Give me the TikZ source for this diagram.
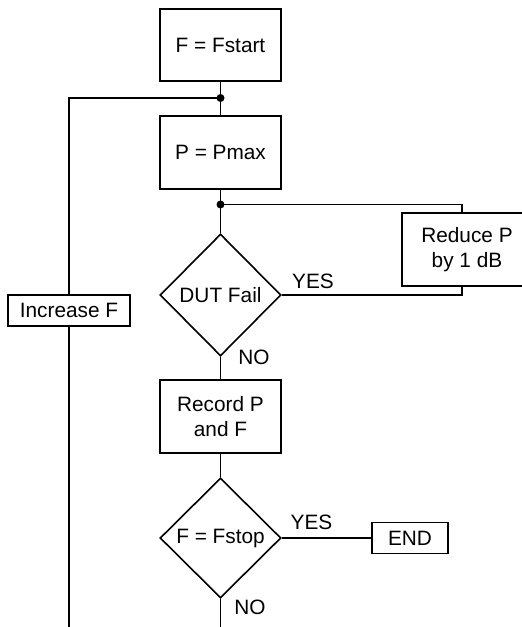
\documentclass[tikz,border=0pt]{standalone}
\usepackage{fontspec}
\setmainfont{Liberation Sans}
\usetikzlibrary{shapes.geometric}
\begin{document}
\begin{tikzpicture}[x=1pt,y=-1pt,
  every node/.style={font=\fontsize{20.8}{25.5}\selectfont},
  line/.style={line width=1.6pt},
  box/.style={draw,line width=1.6pt,rectangle,inner sep=0pt,align=center},
  decision/.style={draw,line width=1.6pt,diamond,inner sep=0pt,aspect=1},
  lbl/.style={inner sep=0pt},
  dot/.style={circle,fill,inner sep=0pt,minimum size=8pt}]
\useasboundingbox (0,0) rectangle (522,627);
\clip (0,0) rectangle (522,627);
\node[box,minimum width=121pt,minimum height=72pt] (start) at (220.5,45) {F = Fstart};
\node[box,minimum width=121pt,minimum height=73pt] (pmax) at (220.5,152.5) {P = Pmax};
\node[decision,minimum width=121pt,minimum height=122pt] (dut) at (220.5,295) {DUT Fail};
\node[box,minimum width=130pt,minimum height=73pt] (reduce) at (467,249.5) {Reduce P\\by 1 dB};
\node[box,minimum width=121pt,minimum height=73pt] (record) at (220.5,416.5) {Record P\\and F};
\node[decision,minimum width=121pt,minimum height=120pt] (fstop) at (220.5,538) {F = Fstop};
\node[box,minimum width=76pt,minimum height=31pt] (end) at (410,538) {END};
\node[box,minimum width=122pt,minimum height=31pt] (increase) at (69,310.5) {Increase F};
\node[lbl] (yes1) at (313,281) {YES};
\node[lbl] (no1) at (254,357) {NO};
\node[lbl] (yes2) at (311.5,522) {YES};
\node[lbl] (no2) at (250,607) {NO};
\coordinate (j1) at (220.5,98);
\coordinate (j2) at (220.5,204.5);
\coordinate (botl) at (69,635);
\coordinate (botc) at (220.5,635);
\draw[line] (start.south) -- (pmax.north);
\draw[line] (j1) -| (increase.north);
\draw[line] (increase.south) -- (botl);
\draw[line] (pmax.south) -- (dut.north);
\draw[line] (j2) -| ([xshift=-5pt]reduce.north);
\draw[line] ([xshift=-5pt]reduce.south) |- (dut.east);
\draw[line] (dut.south) -- (record.north);
\draw[line] (record.south) -- (fstop.north);
\draw[line] (fstop.east) -- (end.west);
\draw[line] (fstop.south) -- (botc);
\node[dot] at (j1) {};
\node[dot] at (j2) {};
\end{tikzpicture}
\end{document}
